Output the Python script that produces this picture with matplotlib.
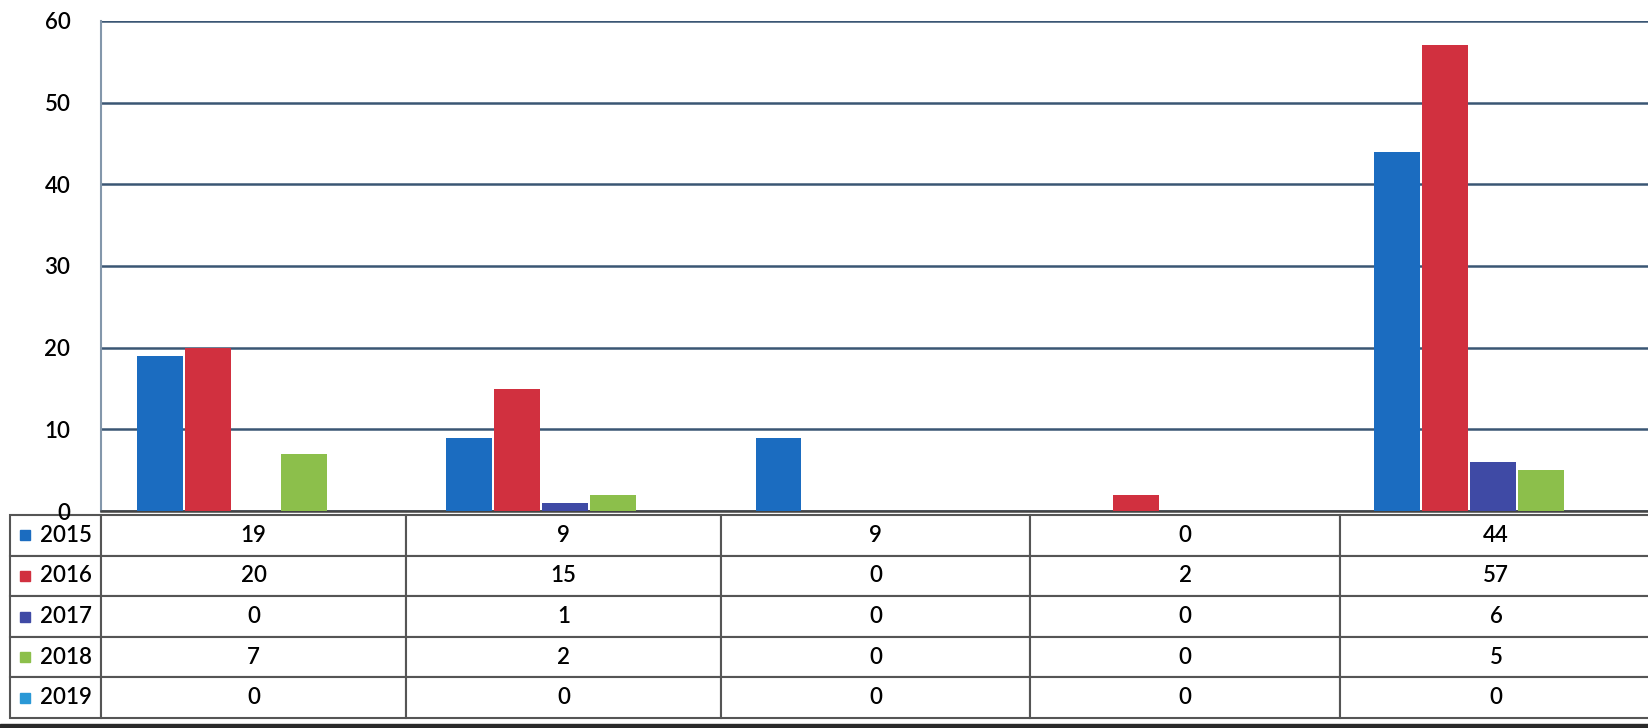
import matplotlib.pyplot as plt
import numpy as np
from matplotlib.patches import Rectangle

plt.rcParams['font.family'] = ['Lato', 'DejaVu Sans']
plt.rcParams['font.weight'] = 'semibold'

# Daten (aus der Tabelle unter dem Diagramm)
years = ['2015', '2016', '2017', '2018', '2019']
v2015 = [19, 9, 9, 0, 44]
v2016 = [20, 15, 0, 2, 57]
v2017 = [0, 1, 0, 0, 6]
v2018 = [7, 2, 0, 0, 5]
v2019 = [0, 0, 0, 0, 0]
series = [v2015, v2016, v2017, v2018, v2019]
colors = ['#1b6cc0', '#d1303f', '#3f4aa5', '#8cbf4b', '#2a98d6']

W, H = 1648, 728
fig = plt.figure(figsize=(W / 100, H / 100), dpi=100)
# Achse: links 101px, oben 21px, unten 511px, rechts bis zum Bildrand
ax = fig.add_axes([101 / W, 1 - 511 / H, 1547 / W, 490 / H])

x = np.arange(len(v2015))
slot = 0.155
bw = 0.148
for k, (vals, c) in enumerate(zip(series, colors)):
    ax.bar(x + (k - 2) * slot, vals, width=bw, color=c, zorder=3)

ax.set_xlim(-0.5, 4.5)
ax.set_ylim(0, 60)
ax.set_yticks(range(0, 61, 10))
ax.set_xticks([])
ax.yaxis.grid(True, color='#3a5674', lw=1.8, zorder=0)
ax.set_axisbelow(True)
for s in ['top', 'right']:
    ax.spines[s].set_visible(False)
ax.spines['left'].set_color('#8397ab')
ax.spines['left'].set_linewidth(1.5)
ax.spines['bottom'].set_color('#444444')
ax.spines['bottom'].set_linewidth(1.8)
ax.tick_params(axis='y', length=0, pad=22, labelsize=16)

# Datentabelle unter dem Diagramm
cell_text = [[''] + [str(v) for v in s] for s in series]
col_px = [91, 305, 315, 309, 310, 312]
total = sum(col_px)
left_px, top_px, bot_px = 10, 515, 718
tab = ax.table(cellText=cell_text, cellLoc='center',
               colWidths=[c / total for c in col_px],
               bbox=[(left_px - 101) / 1547, (511 - bot_px) / 490,
                     total / 1547, (bot_px - top_px) / 490])
tab.auto_set_font_size(False)
for (r, c), cell in tab.get_celld().items():
    cell.set_edgecolor('#555555')
    cell.set_linewidth(1.5)
    cell.get_text().set_fontsize(16)

row_h = (bot_px - top_px) / len(years)
for i, (yr, c) in enumerate(zip(years, colors)):
    yc = top_px + (i + 0.5) * row_h
    fig.add_artist(Rectangle((20 / W, 1 - (yc + 5) / H), 10 / W, 10 / H,
                             color=c, transform=fig.transFigure))
    fig.text(40 / W, 1 - yc / H, yr, fontsize=16, va='center', ha='left')

# dunkler Scanrand unten
fig.add_artist(Rectangle((0, 0), 1, 4 / H, color='#2a2a2a', transform=fig.transFigure))

fig.savefig('out.png', dpi=100)
